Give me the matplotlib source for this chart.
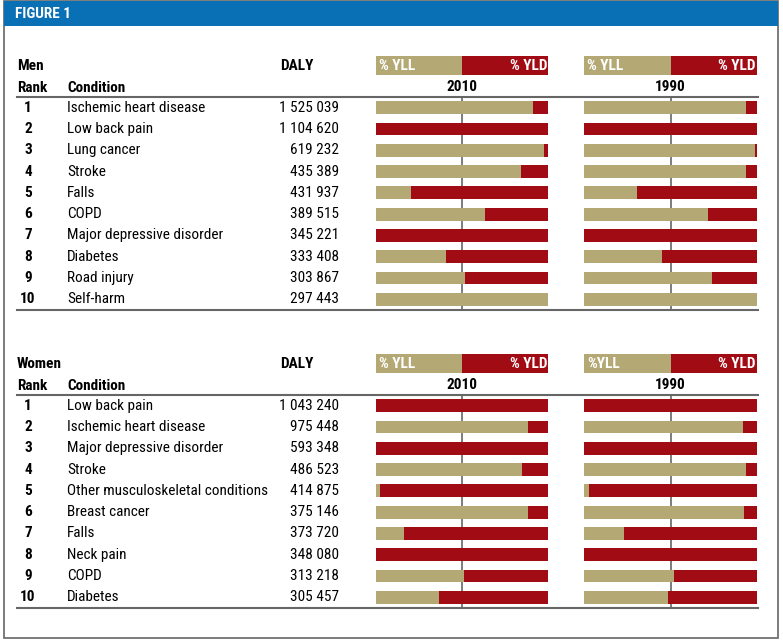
import matplotlib.pyplot as plt
import matplotlib.font_manager as fm
from matplotlib.patches import Rectangle

# datos
men_conditions = ["Ischemic heart disease", "Low back pain", "Lung cancer", "Stroke", "Falls",
                  "COPD", "Major depressive disorder", "Diabetes", "Road injury", "Self-harm"]
men_daly = ["1 525 039", "1 104 620", "619 232", "435 389", "431 937",
            "389 515", "345 221", "333 408", "303 867", "297 443"]
men_yll_2010 = [91.3, 0, 97.5, 84.3, 20.3, 63.2, 0, 40.9, 51.7, 100]
men_yll_1990 = [93.7, 0, 98.7, 93.7, 30.8, 71.5, 0, 45.0, 73.8, 100]

women_conditions = ["Low back pain", "Ischemic heart disease", "Major depressive disorder", "Stroke",
                    "Other musculoskeletal conditions", "Breast cancer", "Falls", "Neck pain",
                    "COPD", "Diabetes"]
women_daly = ["1 043 240", "975 448", "593 348", "486 523", "414 875",
              "375 146", "373 720", "348 080", "313 218", "305 457"]
women_yll_2010 = [0, 88.4, 0, 85.0, 2.5, 88.4, 16.3, 0, 51.0, 36.6]
women_yll_1990 = [0, 91.8, 0, 93.7, 2.9, 92.3, 23.2, 0, 52.3, 48.7]

TAN = '#b4a874'
RED = '#a00b14'
BLUE = '#0a70b6'
GRIS = '#666666'


def peso(w):
    if isinstance(w, str):
        return fm.weight_dict.get(w, 400)
    return int(w)


# buscar una familia estrecha que tenga negrita
def elegir_fuente():
    pesos = {}
    for f in fm.fontManager.ttflist:
        pesos.setdefault(f.name, set()).add(peso(f.weight))
    malos = ('Light', 'Thin', 'Extra', 'Medium', 'Black', 'Semi', 'Mono')
    mejores = []
    for nombre, ws in pesos.items():
        if ('Narrow' in nombre or 'Condensed' in nombre) and not any(m in nombre for m in malos):
            if max(ws) >= 700:
                mejores.append(nombre)
    for pref in ('Roboto Condensed', 'Liberation Sans Narrow', 'Open Sans Condensed'):
        if pref in mejores:
            return pref
    if mejores:
        return sorted(mejores)[0]
    return 'Roboto'


FAM = elegir_fuente()
plt.rcParams['font.family'] = [FAM, 'DejaVu Sans']

W, H = 783, 642
fig = plt.figure(figsize=(W / 100, H / 100), dpi=100)
bg = fig.add_axes([0, 0, 1, 1])
bg.set_xlim(0, W)
bg.set_ylim(H, 0)
bg.axis('off')

# ajustar el tamaño para que "Ischemic heart disease" mida ~137 px como en el original
prueba = bg.text(0, 0, "Ischemic heart disease", fontsize=10)
ancho = prueba.get_window_extent(renderer=fig.canvas.get_renderer()).width
prueba.remove()
FS = min(12.5, max(8.5, 10 * 137 / ancho))

# marco y cabecera
bg.add_patch(Rectangle((4, 1), 774, 637, facecolor='white', edgecolor=GRIS, lw=1.2))
bg.add_patch(Rectangle((4, 1), 774, 25, facecolor=BLUE, edgecolor='none'))
bg.text(15, 14, "FIGURE 1", color='white', fontsize=FS, fontweight='bold', va='center')


def px_axes(x0, y0, x1, y1):
    return fig.add_axes([x0 / W, 1 - y1 / H, (x1 - x0) / W, (y1 - y0) / H])


def tabla(titulo, conds, dalys, yll_a, yll_b, top, legend_a, legend_b):
    # top = y de la linea bajo el encabezado
    bottom = top + 213
    row_h = (bottom - top) / 10
    bg.text(17, top - 31, titulo, fontsize=FS, fontweight='bold', va='center')
    bg.text(280, top - 31, "DALY", fontsize=FS, fontweight='bold', va='center')
    bg.text(17, top - 9, "Rank", fontsize=FS, fontweight='bold', va='center')
    bg.text(67, top - 9, "Condition", fontsize=FS, fontweight='bold', va='center')
    bg.plot([17, 758], [top, top], color=GRIS, lw=1.5)
    bg.plot([17, 758], [bottom, bottom], color=GRIS, lw=1.5)
    for i in range(10):
        y = top + row_h * (i + 0.5)
        bg.text(28, y, str(i + 1), fontsize=FS, fontweight='bold', va='center', ha='center')
        bg.text(67, y, conds[i], fontsize=FS, va='center')
        bg.text(339, y, dalys[i], fontsize=FS, va='center', ha='right')

    for (x0, x1), vals, anio, leg in [((376, 548), yll_a, "2010", legend_a),
                                      ((584, 757), yll_b, "1990", legend_b)]:
        xm = (x0 + x1) / 2
        # leyenda
        ly = top - 41
        bg.add_patch(Rectangle((x0, ly), xm - x0, 19, facecolor=TAN, edgecolor='none'))
        bg.add_patch(Rectangle((xm, ly), x1 - xm, 19, facecolor=RED, edgecolor='none'))
        bg.text(x0 + 3, ly + 9.5, leg, color='white', fontsize=FS, fontweight='bold', va='center')
        bg.text(x1 - 1, ly + 9.5, "% YLD", color='white', fontsize=FS, fontweight='bold',
                va='center', ha='right')
        bg.text(xm, top - 10, anio, fontsize=FS, fontweight='bold', va='center', ha='center')

        ax = px_axes(x0, top, x1, bottom)
        filas = list(range(10))
        yld = [100 - v for v in vals]
        ax.barh(filas, vals, height=0.6, color=TAN, zorder=1)
        ax.barh(filas, yld, left=vals, height=0.6, color=RED, zorder=1)
        ax.axvline(50, color=GRIS, lw=1.2, zorder=0)
        ax.set_xlim(0, 100)
        ax.set_ylim(9.5, -0.5)
        ax.axis('off')


tabla("Men", men_conditions, men_daly, men_yll_2010, men_yll_1990, 97, "% YLL", "% YLL")
tabla("Women", women_conditions, women_daly, women_yll_2010, women_yll_1990, 395, "% YLL", "%YLL")

fig.savefig("out.png", dpi=100)
